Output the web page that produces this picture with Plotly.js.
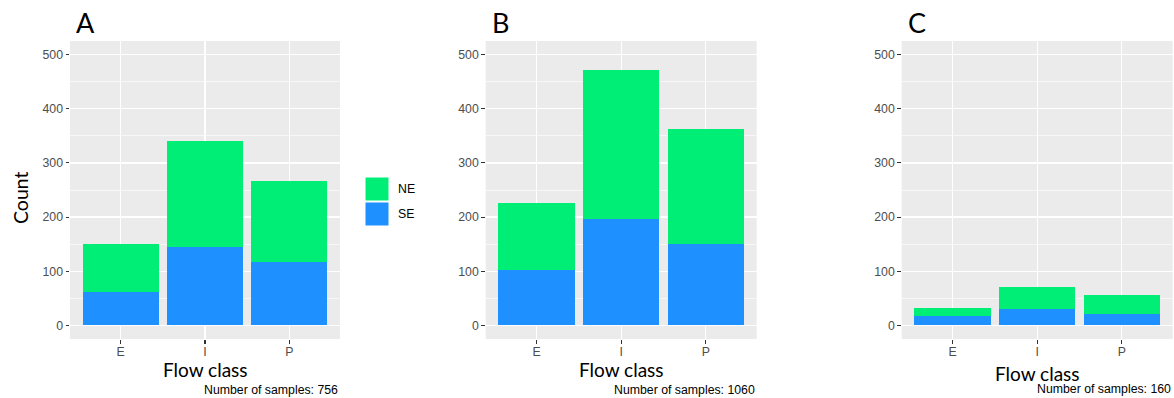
<!DOCTYPE html>
<html><head><meta charset="utf-8">
<script src="https://cdn.plot.ly/plotly-3.0.1.min.js"></script>
<style>html,body{margin:0;padding:0;background:#fff}#chart{width:1174px;height:398px}</style>
</head><body><div id="chart"></div>
<script>
const categories = ["E", "I", "P"];
const panels = ["A", "B", "C"];
const seA = [62, 145, 117];
const neA = [88, 195, 149];
const seB = [102, 196, 151];
const neB = [124, 275, 212];
const seC = [17, 30, 22];
const neC = [15, 41, 35];
const sampleCounts = [756, 1060, 160];
const yTicks = [0, 100, 200, 300, 400, 500];

const W = 1174, H = 398;
const px = v => v / W;
const py = v => 1 - v / H;
const xDom = [[70, 340], [485.7, 756.7], [901.7, 1172.7]];
const yTop = 41, yBot = 339;
const SE_COL = "#1E90FF", NE_COL = "#00EE76";

const seAll = [seA, seB, seC], neAll = [neA, neB, neC];
const traces = [];
const layout = {
  width: W, height: H, margin: {l: 0, r: 0, t: 0, b: 0},
  paper_bgcolor: "white", plot_bgcolor: "#EBEBEB",
  barmode: "stack", bargap: 0.1, showlegend: false,
  font: {family: "Liberation Sans, Arial, sans-serif", color: "#4D4D4D"},
  annotations: [], shapes: []
};
for (let i = 0; i < 3; i++) {
  const s = i === 0 ? "" : String(i + 1);
  traces.push({type: "bar", x: categories, y: seAll[i], name: "SE", xaxis: "x" + s, yaxis: "y" + s,
    marker: {color: SE_COL, line: {width: 0}}, hoverinfo: "skip"});
  traces.push({type: "bar", x: categories, y: neAll[i], name: "NE", xaxis: "x" + s, yaxis: "y" + s,
    marker: {color: NE_COL, line: {width: 0}}, hoverinfo: "skip"});
  layout["xaxis" + s] = {
    domain: [px(xDom[i][0]), px(xDom[i][1])], anchor: "y" + s,
    type: "category", range: [-0.6, 2.6],
    showgrid: true, gridcolor: "white", gridwidth: 1.2, zeroline: false,
    ticks: "outside", ticklen: 3.5, tickwidth: 1.1, tickcolor: "#333333",
    ticklabelstandoff: -2,
    tickfont: {size: 12.3, color: "#4D4D4D"}, showline: false, fixedrange: true
  };
  layout["yaxis" + s] = {
    domain: [py(yBot), py(yTop)], anchor: "x" + s,
    range: [-25, 525], tickvals: yTicks,
    showgrid: true, gridcolor: "white", gridwidth: 1.2, zeroline: false,
    minor: {dtick: 50, tick0: 0, showgrid: true, gridcolor: "white", gridwidth: 0.6, ticks: ""},
    ticks: "outside", ticklen: 3.5, tickwidth: 1.1, tickcolor: "#333333",
    tickfont: {size: 12.3, color: "#4D4D4D"}, showline: false, fixedrange: true
  };
  layout.annotations.push({
    text: panels[i], xref: "paper", yref: "paper", x: px(xDom[i][0] + 4), y: py(23),
    xanchor: "left", yanchor: "middle", showarrow: false,
    font: {family: "Lato, sans-serif", size: 27, color: "#000"}
  });
  layout.annotations.push({
    text: "Flow class", xref: "paper", yref: "paper",
    x: px((xDom[i][0] + xDom[i][1]) / 2), y: py(i === 2 ? 373 : 369.5),
    xanchor: "center", yanchor: "middle", showarrow: false,
    font: {family: "Lato, sans-serif", size: 19, color: "#000"}
  });
  layout.annotations.push({
    text: "Number of samples: " + sampleCounts[i], xref: "paper", yref: "paper",
    x: px(xDom[i][1]), y: py(i === 2 ? 388.5 : 389.5),
    xanchor: "right", yanchor: "middle", showarrow: false,
    font: {family: "Liberation Sans, Arial, sans-serif", size: 12.3, color: "#000"}
  });
}
layout.annotations.push({
  text: "Count", xref: "paper", yref: "paper", x: px(20), y: py(198),
  xanchor: "center", yanchor: "middle", textangle: -90, showarrow: false,
  font: {family: "Lato, sans-serif", size: 19.5, color: "#000"}
});
// legend
const legend = [["NE", NE_COL, 177.5, 200.5], ["SE", SE_COL, 202.5, 225.5]];
legend.forEach(([lab, col, y0, y1]) => {
  layout.shapes.push({type: "rect", xref: "paper", yref: "paper",
    x0: px(365.5), x1: px(388.5), y0: py(y1), y1: py(y0),
    fillcolor: col, line: {width: 0}});
  layout.annotations.push({text: lab, xref: "paper", yref: "paper",
    x: px(396), y: py((y0 + y1) / 2), xanchor: "left", yanchor: "middle", showarrow: false,
    font: {family: "Liberation Sans, Arial, sans-serif", size: 12.3, color: "#000"}});
});
Plotly.newPlot("chart", traces, layout, {displayModeBar: false, staticPlot: true});
</script></body></html>
